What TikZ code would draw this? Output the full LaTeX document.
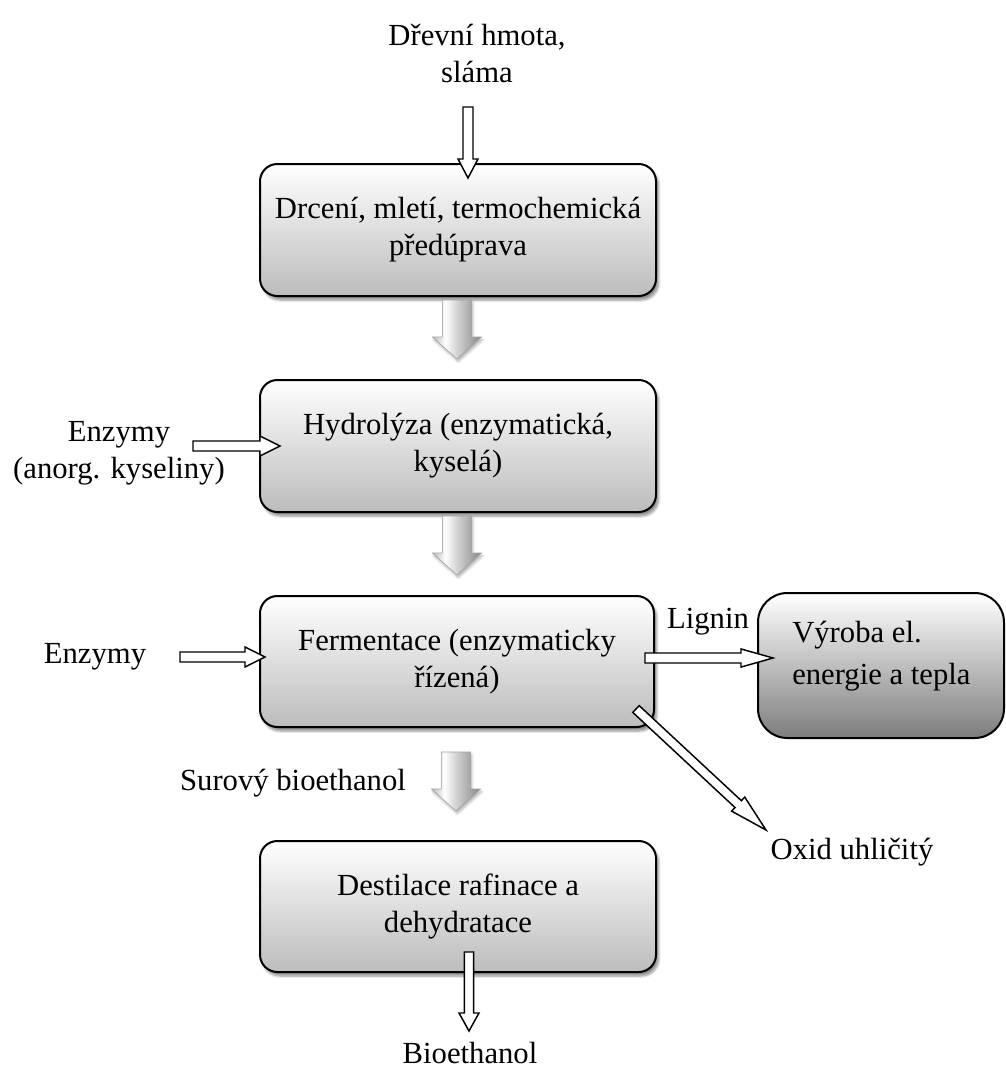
\documentclass[tikz,border=0pt]{standalone}
\usepackage{fontspec}
\setmainfont{Liberation Serif}
\usetikzlibrary{calc,shadows.blur}
\pgfdeclarehorizontalshading{grayarr}{100bp}{color(0bp)=(gray!55); color(25bp)=(gray!55); color(38bp)=(white); color(50bp)=(gray!35); color(75bp)=(gray!95); color(100bp)=(gray!95)}
\newcommand\blockarr[6]{%
  \coordinate (bah) at ($(#3)!#6!(#2)$);
  \path[#1] ($(#2)!#4!90:(#3)$) -- ($(bah)!#4!90:(#3)$) -- ($(bah)!#5!90:(#3)$) -- (#3)
    -- ($(bah)!#5!-90:(#3)$) -- ($(bah)!#4!-90:(#3)$) -- ($(#2)!#4!-90:(#3)$) -- cycle;}
\tikzset{
  procbox/.style={draw=black, line width=1.5pt, rounded corners=13pt, align=center,
    top color=white, bottom color={rgb,255:red,188;green,188;blue,188},
    blur shadow={shadow xshift=2pt, shadow yshift=-3pt, shadow blur steps=6, shadow opacity=45}},
  outbox/.style={draw=black, line width=1.5pt, rounded corners=22pt,
    top color=white, bottom color={rgb,255:red,125;green,125;blue,125}},
  whitearr/.style={draw=black, fill=white, line width=1.1pt, line join=miter},
  grayarrow/.style={draw=gray!75, line width=0.4pt, shading=grayarr,
    blur shadow={shadow xshift=1pt, shadow yshift=-2pt, shadow blur steps=4, shadow opacity=30}},
  lbl/.style={align=center, inner sep=0pt}
}
\begin{document}
\begin{tikzpicture}[x=0.75pt, y=-0.75pt, font=\fontsize{23}{27.75}\selectfont]
\useasboundingbox (0,0) rectangle (1006,1072);

% boxes
\node[procbox, minimum width=297pt, minimum height=99pt] (b1) at (458,230) {Drcení, mletí, termochemická\\předúprava};
\node[procbox, minimum width=297pt, minimum height=99pt] (b2) at (458,446) {Hydrolýza (enzymatická,\\kyselá)};
\node[procbox, minimum width=295.5pt, minimum height=98.25pt] (b3) at (457,661.5) {Fermentace (enzymaticky\\řízená)};
\node[procbox, minimum width=297pt, minimum height=98.25pt] (b4) at (458,906.5) {Destilace rafinace a\\dehydratace};
\node[outbox, minimum width=184.5pt, minimum height=108.75pt] (b5) at (881,665.5) {};
\node[anchor=west, align=left, inner sep=0pt, font=\fontsize{23}{31.5}\selectfont] (b5t) at ($(b5.west)+(35,-9.5)$) {Výroba el.\\energie a tepla};

% texts
\node[lbl] (src) at (477,53) {Dřevní hmota,\\sláma};
\node[lbl] (enz1) at (119,453.5) {Enzymy\\(anorg. kyseliny)};
\node[lbl] (enz2) at (95,657) {Enzymy};
\node[lbl] (lig) at (708,622) {Lignin};
\node[lbl] (oxid) at (852,852) {Oxid uhličitý};
\node[lbl] (surovy) at (293,783) {Surový bioethanol};
\node[lbl] (bioeth) at (470,1053) {Bioethanol};

% connector end points
\coordinate (t1s) at (468,107);  \coordinate (t1e) at (468,178);
\coordinate (e1s) at (193,446);  \coordinate (e1e) at (280,446);
\coordinate (e2s) at (180,657);  \coordinate (e2e) at (265,657);
\coordinate (l1s) at (645,658);  \coordinate (l1e) at (773,658);
\coordinate (d1s) at (636,709);  \coordinate (d1e) at (766,830);
\coordinate (o1s) at (469,952);  \coordinate (o1e) at (469,1031);
\coordinate (g1s) at (457,300);  \coordinate (g1e) at (457,359);
\coordinate (g2s) at (457,516);  \coordinate (g2e) at (457,575);
\coordinate (g3s) at (456,752);  \coordinate (g3e) at (456,811);

% gray arrows between boxes
\blockarr{grayarrow}{g1s}{g1e}{10.9pt}{18.4pt}{16.5pt}
\blockarr{grayarrow}{g2s}{g2e}{10.9pt}{18.4pt}{16.5pt}
\blockarr{grayarrow}{g3s}{g3e}{10.9pt}{18.4pt}{16.5pt}

% white block arrows
\blockarr{whitearr}{t1s}{t1e}{3.75pt}{7.5pt}{14.25pt}
\blockarr{whitearr}{e1s}{e1e}{3.75pt}{7.5pt}{15pt}
\blockarr{whitearr}{e2s}{e2e}{3.75pt}{7.5pt}{15pt}
\blockarr{whitearr}{l1s}{l1e}{3.75pt}{6.8pt}{24pt}
\blockarr{whitearr}{d1s}{d1e}{3.5pt}{7.2pt}{28.5pt}
\blockarr{whitearr}{o1s}{o1e}{3.4pt}{7.5pt}{13.5pt}
\end{tikzpicture}
\end{document}
